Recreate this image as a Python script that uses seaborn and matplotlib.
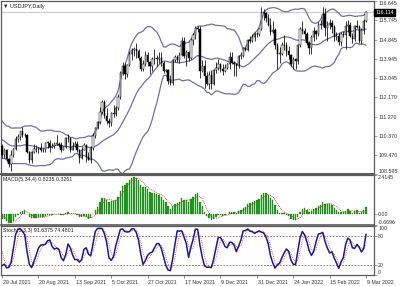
import numpy as np
import pandas as pd
import matplotlib
matplotlib.use("Agg")
import matplotlib.pyplot as plt
import matplotlib.transforms as mtransforms
import seaborn as sns

# ---------------- data ----------------
date_labels = ["29 Jul 2021", "20 Aug 2021", "13 Sep 2021", "5 Oct 2021", "27 Oct 2021",
               "17 Nov 2021", "9 Dec 2021", "31 Dec 2021", "24 Jan 2022", "15 Feb 2022", "9 Mar 2022"]
label_every = 16

price_ticks = [116.645, 115.745, 114.845, 113.945, 113.045, 112.170, 111.270, 110.370, 109.470, 108.595]
price_min, price_max = 108.595, 116.645
last_price = 116.114
macd_max, macd_min = 2.4145, -0.6696

# history before the first visible bar (needed by the indicators)
warmup_close = [109.50, 109.50, 110.30, 109.50, 109.25, 109.50, 109.60, 109.35, 109.70, 110.05,
                110.05, 110.70, 110.20, 110.20, 110.30, 110.65, 110.95, 110.85, 110.75, 110.60,
                110.50, 111.10, 111.55, 111.05, 110.95, 110.60, 110.60, 109.80, 110.15, 110.35,
                110.60, 110.00, 109.80, 110.05, 109.45, 109.85, 110.30, 110.15, 110.55, 110.40,
                109.80, 109.90]
warmup_high = [110.10, 110.20, 110.10, 109.95, 110.35, 110.40, 110.60, 110.60, 110.60, 110.10]
warmup_low = [109.70, 109.75, 109.10, 109.10, 109.80, 110.10, 110.10, 110.10, 109.60, 109.60]

open_ = [109.90, 109.47, 109.70, 109.30, 109.05, 109.48, 109.76, 110.24, 110.30, 110.58,
         110.42, 110.40, 109.60, 109.25, 109.60, 109.75, 109.75, 109.80, 109.70, 109.70,
         110.05, 110.05, 109.85, 109.90, 110.00, 110.00, 109.95, 109.70, 109.85, 110.25,
         110.25, 109.70, 109.90, 110.00, 109.70, 109.35, 109.70, 109.95, 109.40, 109.25,
         109.80, 110.35, 110.75, 111.00, 111.50, 111.95, 111.30, 111.05, 110.95, 111.45,
         111.40, 111.65, 112.20, 113.30, 113.60, 113.25, 113.65, 114.20, 114.35, 114.40,
         114.30, 114.00, 113.50, 113.70, 114.15, 113.80, 113.60, 113.95, 114.00, 113.95,
         114.00, 113.75, 113.40, 113.45, 112.90, 112.85, 113.90, 114.05, 113.90, 114.15,
         114.80, 114.10, 114.25, 114.00, 114.85, 115.05, 115.40, 115.35, 113.40, 113.60,
         113.15, 112.80, 113.20, 112.80, 113.45, 113.55, 113.70, 113.50, 113.40, 113.55,
         113.70, 114.05, 113.75, 113.70, 113.60, 114.10, 114.10, 114.45, 114.35, 114.85,
         114.80, 114.95, 115.10, 115.10, 115.35, 116.10, 116.10, 115.85, 115.55, 115.20,
         115.30, 114.60, 114.20, 114.20, 114.60, 114.60, 114.30, 114.15, 113.70, 113.95,
         113.85, 114.60, 115.35, 115.25, 115.10, 114.70, 114.45, 114.95, 115.25, 115.10,
         115.55, 115.55, 116.05, 115.40, 115.55, 115.60, 115.45, 114.95, 115.00, 114.75,
         115.10, 115.05, 115.50, 115.55, 115.00, 114.90, 115.50, 115.45, 114.80, 115.30,
         115.70]
high = [110.00, 109.80, 109.75, 109.35, 109.70, 109.80, 110.35, 110.45, 110.60, 110.80,
        110.50, 110.45, 109.65, 109.65, 110.00, 109.95, 109.85, 110.05, 109.80, 110.10,
        110.15, 110.20, 110.05, 110.10, 110.40, 110.10, 110.10, 109.90, 110.30, 110.45,
        110.25, 110.10, 110.15, 110.15, 109.75, 109.85, 110.05, 110.00, 109.60, 109.90,
        110.50, 110.80, 111.05, 111.70, 112.05, 112.05, 111.65, 111.20, 111.50, 111.80,
        111.75, 112.30, 113.40, 113.80, 113.75, 113.70, 114.30, 114.45, 114.50, 114.70,
        114.40, 114.10, 113.90, 114.30, 114.25, 113.85, 114.05, 114.40, 114.15, 114.25,
        114.25, 113.85, 113.50, 113.50, 113.20, 113.95, 114.15, 114.15, 114.25, 114.95,
        114.95, 114.35, 114.30, 114.90, 115.15, 115.50, 115.50, 115.50, 113.90, 113.90,
        113.35, 113.40, 113.45, 113.50, 113.80, 113.95, 113.75, 113.70, 113.70, 113.75,
        114.25, 114.25, 113.85, 113.70, 114.15, 114.25, 114.50, 114.50, 114.90, 115.00,
        115.10, 115.20, 115.20, 115.40, 116.35, 116.25, 116.15, 116.05, 115.85, 115.70,
        115.40, 114.70, 114.50, 114.75, 115.05, 114.75, 114.55, 114.20, 114.05, 114.00,
        114.65, 115.45, 115.70, 115.40, 115.20, 114.80, 115.05, 115.45, 115.30, 115.65,
        115.75, 116.35, 116.30, 115.70, 115.80, 115.75, 115.55, 115.20, 115.15, 115.20,
        115.25, 115.70, 115.75, 115.65, 115.15, 115.55, 115.75, 115.55, 115.40, 115.80,
        116.20]
low = [109.35, 109.35, 109.20, 108.90, 108.72, 109.40, 109.70, 110.10, 110.20, 110.30,
       110.30, 109.55, 109.10, 109.10, 109.55, 109.60, 109.55, 109.60, 109.60, 109.60,
       109.80, 109.60, 109.80, 109.80, 109.95, 109.85, 109.60, 109.70, 109.80, 110.10,
       109.60, 109.70, 109.85, 109.60, 109.10, 109.30, 109.70, 109.15, 109.25, 109.10,
       109.70, 110.25, 110.70, 110.90, 111.40, 111.20, 110.90, 110.80, 110.85, 111.25,
       111.30, 111.55, 112.10, 113.20, 113.00, 113.10, 113.60, 113.90, 114.10, 114.00,
       113.90, 113.40, 113.40, 113.60, 113.60, 113.25, 113.40, 113.70, 113.60, 113.75,
       113.60, 113.30, 113.35, 112.80, 112.75, 112.75, 113.80, 113.80, 113.75, 114.10,
       114.00, 113.60, 113.85, 113.95, 114.60, 114.90, 115.20, 113.05, 113.35, 112.60,
       112.75, 112.55, 112.55, 112.75, 113.30, 113.45, 113.35, 113.20, 113.35, 113.50,
       113.50, 113.70, 113.15, 113.15, 113.55, 113.95, 114.05, 114.30, 114.30, 114.70,
       114.75, 114.80, 114.95, 115.00, 115.30, 115.75, 115.65, 115.50, 115.05, 115.15,
       114.40, 113.50, 113.75, 114.15, 114.35, 114.10, 113.95, 113.60, 113.50, 113.50,
       113.70, 114.50, 115.10, 114.90, 114.60, 114.20, 114.20, 114.80, 114.90, 115.00,
       115.35, 115.50, 115.00, 114.80, 115.35, 115.15, 114.80, 114.85, 114.60, 114.55,
       114.95, 114.40, 115.20, 114.95, 114.70, 114.80, 115.40, 114.70, 114.65, 115.10,
       115.65]
close = [109.47, 109.70, 109.30, 109.05, 109.48, 109.76, 110.24, 110.30, 110.58, 110.42,
         110.40, 109.60, 109.25, 109.60, 109.75, 109.75, 109.80, 109.70, 109.70, 110.05,
         110.05, 109.85, 109.90, 110.00, 110.00, 109.95, 109.70, 109.85, 110.25, 110.25,
         109.70, 109.90, 110.00, 109.70, 109.35, 109.70, 109.95, 109.40, 109.25, 109.80,
         110.35, 110.75, 111.00, 111.50, 111.95, 111.30, 111.05, 110.95, 111.45, 111.40,
         111.65, 112.20, 113.30, 113.60, 113.25, 113.65, 114.20, 114.35, 114.40, 114.30,
         114.00, 113.50, 113.70, 114.15, 113.80, 113.60, 113.95, 114.00, 113.95, 114.00,
         113.75, 113.40, 113.45, 112.90, 112.85, 113.90, 114.05, 113.90, 114.15, 114.80,
         114.10, 114.25, 114.00, 114.85, 115.05, 115.40, 115.35, 113.40, 113.60, 113.15,
         112.80, 113.20, 112.80, 113.45, 113.55, 113.70, 113.50, 113.40, 113.55, 113.70,
         114.05, 113.75, 113.70, 113.60, 114.10, 114.10, 114.45, 114.35, 114.85, 114.80,
         114.95, 115.10, 115.10, 115.35, 116.10, 116.10, 115.85, 115.55, 115.20, 115.30,
         114.60, 114.20, 114.20, 114.60, 114.60, 114.30, 114.15, 113.70, 113.95, 113.85,
         114.60, 115.35, 115.25, 115.10, 114.70, 114.45, 114.95, 115.25, 115.10, 115.55,
         115.55, 116.05, 115.40, 115.55, 115.60, 115.45, 114.95, 115.00, 114.75, 115.10,
         115.05, 115.50, 115.55, 115.00, 114.90, 115.50, 115.45, 114.80, 115.30, 115.70,
         116.114]

# ---------------- indicators ----------------
N = len(close)
idx = np.arange(N)
c_all = pd.Series(warmup_close + close, dtype=float)
sma = c_all.rolling(20).mean()
sd = c_all.rolling(20).std(ddof=0)
bb_up = (sma + 2 * sd).iloc[-N:].to_numpy()
bb_mid = sma.iloc[-N:].to_numpy()
bb_lo = (sma - 2 * sd).iloc[-N:].to_numpy()

macd_all = c_all.ewm(span=5, adjust=False).mean() - c_all.ewm(span=34, adjust=False).mean()
sig_all = macd_all.rolling(4).mean()
macd = macd_all.iloc[-N:].to_numpy()
macd_sig = sig_all.iloc[-N:].to_numpy()

h_s = pd.Series(warmup_high + high, dtype=float)
l_s = pd.Series(warmup_low + low, dtype=float)
c_s = pd.Series(warmup_close[-len(warmup_high):] + close, dtype=float)
ll = l_s.rolling(5).min()
hh = h_s.rolling(5).max()
k_all = (c_s - ll).rolling(3).sum() / (hh - ll).rolling(3).sum() * 100
d_all = k_all.rolling(3).mean()
st_k = k_all.iloc[-N:].to_numpy()
st_d = d_all.iloc[-N:].to_numpy()

df = pd.DataFrame({"i": idx, "open": open_, "high": high, "low": low, "close": close,
                   "up": bb_up, "mid": bb_mid, "lo": bb_lo,
                   "macd": macd, "sig": macd_sig, "k": st_k, "d": st_d})

# ---------------- figure ----------------
sns.set_style("white")
plt.rcParams["font.family"] = ["Liberation Sans", "DejaVu Sans"]

W, H = 400, 286
fig = plt.figure(figsize=(W / 100, H / 100), dpi=100)

def px_axes(x0, y0, x1, y1):
    return fig.add_axes([x0 / W, 1 - y1 / H, (x1 - x0) / W, (y1 - y0) / H])

ax = px_axes(1, 1, 374, 174)
ax_m = px_axes(1, 175, 374, 225)
ax_s = px_axes(1, 226, 374, 275)

XL = (-0.45, 163.5)
FS = 3.8
frame = "#5a5a5a"
band_c = "#6e70aa"

for a in (ax, ax_m, ax_s):
    a.set_xlim(*XL)
    a.set_facecolor("white")
    for s in a.spines.values():
        s.set_color(frame)
        s.set_linewidth(0.9)
    a.set_xticks([])
    a.yaxis.tick_right()
    a.tick_params(axis="y", length=2, width=0.5, color="#808080", labelsize=FS,
                  pad=1, labelcolor="#333333")
ax.spines["bottom"].set_linewidth(1.4)
ax_m.spines["bottom"].set_linewidth(1.2)

# --- main price panel ---
ax.set_ylim(price_min, price_max)
ax.axhline(last_price, color="#cfcfcf", lw=0.9, zorder=1)
sns.lineplot(x=df["i"], y=df["up"], ax=ax, color=band_c, lw=0.9, zorder=2)
sns.lineplot(x=df["i"], y=df["mid"], ax=ax, color=band_c, lw=0.9, zorder=2)
sns.lineplot(x=df["i"], y=df["lo"], ax=ax, color=band_c, lw=0.9, zorder=2)
ax.vlines(df["i"], df["low"], df["high"], color="black", lw=0.55, zorder=3)
bull = df["close"] >= df["open"]
body_lo = np.minimum(df["open"], df["close"])
body_h = np.maximum(np.abs(df["close"] - df["open"]), 0.02)
ax.bar(df["i"][bull], body_h[bull], bottom=body_lo[bull], width=0.6,
       color="white", edgecolor="black", linewidth=0.35, zorder=4)
ax.bar(df["i"][~bull], body_h[~bull], bottom=body_lo[~bull], width=0.6,
       color="black", edgecolor="black", linewidth=0.35, zorder=4)
ax.set_yticks(price_ticks)
lbls = ax.set_yticklabels([f"{v:.3f}" for v in price_ticks])
lbls[0].set_va("top")
lbls[-1].set_va("bottom")
ax.set_xlabel("")
ax.set_ylabel("")
ax.text(1.004, last_price, f"{last_price:.3f}", transform=mtransforms.blended_transform_factory(ax.transAxes, ax.transData),
        ha="left", va="center", fontsize=FS, color="white", zorder=10, clip_on=False,
        bbox=dict(boxstyle="square,pad=0.25", fc="black", ec="black"))
ax.text(0.006, 0.985, "\u25bc USDJPY,Daily", transform=ax.transAxes, ha="left", va="top",
        fontsize=4.0, color="#222222")

# --- MACD panel ---
ax_m.set_ylim(macd_min, macd_max)
ax_m.bar(df["i"], df["macd"], width=0.6, color="#22a022", edgecolor="#0d6e0d", linewidth=0.2, zorder=2)
sns.lineplot(x=df["i"], y=df["sig"], ax=ax_m, color="#d02020", lw=0.6, linestyle=(0, (1, 1.2)), zorder=3)
ax_m.set_yticks([macd_max, 0.0, macd_min])
ml = ax_m.set_yticklabels(["2.4145", "0.00", "-0.6696"])
ml[0].set_va("top")
ml[1].set_va("center")
ml[2].set_va("bottom")
ax_m.set_xlabel("")
ax_m.set_ylabel("")
ax_m.text(0.006, 0.96, "MACD(5,34,4) 0.8235 0.3261", transform=ax_m.transAxes, ha="left", va="top",
          fontsize=FS, color="#222222")

# --- Stochastic panel ---
ax_s.set_ylim(0, 100)
for lvl in (20, 80):
    ax_s.axhline(lvl, color="#8a4a4a", lw=0.5, linestyle=(0, (2.5, 2)), zorder=1)
sns.lineplot(x=df["i"], y=df["d"], ax=ax_s, color="#e04040", lw=0.6, linestyle=(0, (1, 1.2)), zorder=2)
sns.lineplot(x=df["i"], y=df["k"], ax=ax_s, color="#1a1a8a", lw=1.1, zorder=3)
ax_s.set_yticks([100, 80, 20, 0])
sl = ax_s.set_yticklabels(["100", "80", "20", "0"])
sl[0].set_va("top")
sl[3].set_va("bottom")
ax_s.set_xlabel("")
ax_s.set_ylabel("")
ax_s.text(0.006, 0.95, "Stoch(5,3,3) 91.6375 74.4801", transform=ax_s.transAxes, ha="left", va="top",
          fontsize=FS, color="#222222")

# date axis
tick_pos = [i * label_every for i in range(len(date_labels))]
ax_s.set_xticks(tick_pos)
ax_s.set_xticklabels(date_labels, ha="left")
ax_s.tick_params(axis="x", length=2, width=0.5, color="#606060", labelsize=FS, pad=1.5,
                 labelcolor="#333333", bottom=True)
off = mtransforms.ScaledTranslation(0.8 / 100, 0, fig.dpi_scale_trans)
for t in ax_s.get_xticklabels():
    t.set_transform(t.get_transform() + off)

fig.savefig("out.png", dpi=100, facecolor="white")
